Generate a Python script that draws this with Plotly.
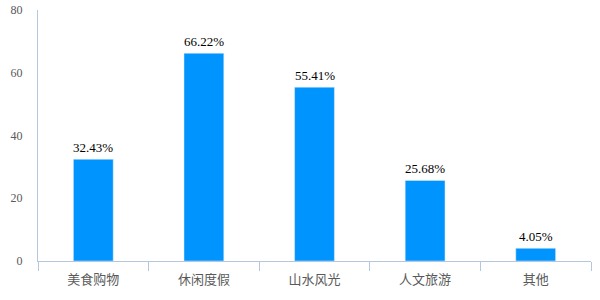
import plotly.graph_objects as go

categories = ["美食购物", "休闲度假", "山水风光", "人文旅游", "其他"]
values = [32.43, 66.22, 55.41, 25.68, 4.05]
labels = ["32.43%", "66.22%", "55.41%", "25.68%", "4.05%"]
y_ticks = [0, 20, 40, 60, 80]

fig = go.Figure()
fig.add_trace(go.Bar(
    x=categories, y=values, marker_color="#0094FF", width=0.36,
    hoverinfo="skip",
))
for c, v, t in zip(categories, values, labels):
    fig.add_annotation(x=c, y=v, text=t, showarrow=False, yanchor="bottom", yshift=2,
                       font=dict(family="Liberation Serif, Times New Roman, serif", size=13, color="#000000"))

fig.update_layout(
    width=600, height=300,
    margin=dict(l=38, r=9, t=10, b=39),
    paper_bgcolor="white", plot_bgcolor="white",
    showlegend=False,
    bargap=0.64,
)
fig.update_xaxes(
    showline=True, linecolor="#B4C7DC", linewidth=1,
    ticks="outside", tickson="boundaries", ticklen=9, tickcolor="#B4C7DC",
    tickfont=dict(family="Noto Sans CJK SC", size=13, color="#595959"),
    showgrid=False, automargin=False, ticklabelstandoff=6,
)
fig.update_yaxes(
    range=[0, 80], tickvals=y_ticks, showgrid=False, zeroline=False,
    showline=True, linecolor="#B4C7DC", linewidth=1,
    ticks="", ticklabelstandoff=12, automargin=False,
    tickfont=dict(family="Liberation Serif, Times New Roman, serif", size=12, color="#595959"),
)
fig.write_html("out.html")
